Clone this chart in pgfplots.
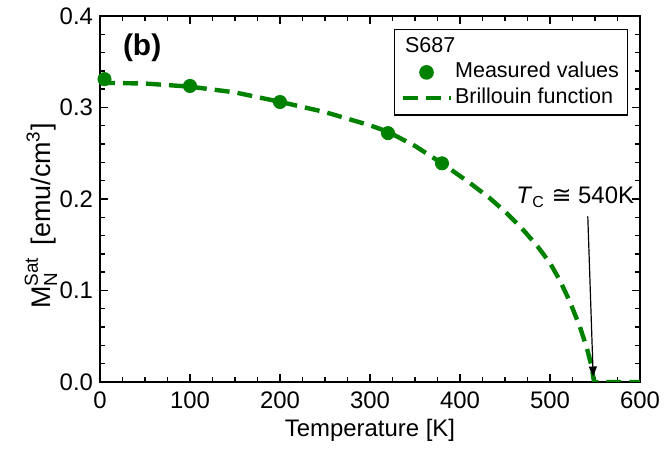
\documentclass[border=0pt]{standalone}
\usepackage{pgfplots}
\pgfplotsset{compat=1.18}
\usepackage{amsmath}
\usepackage{fontspec}
\setmainfont{Liberation Sans}
\newfontfamily\symfont{DejaVu Sans}
\usetikzlibrary{arrows.meta}
\definecolor{fitgreen}{RGB}{0,130,0}

% Legend symbols
\pgfplotsset{
  dotimg/.style={legend image code/.code={\draw[##1] plot coordinates {(12bp,0bp)};}},
  dashimg/.style={legend image code/.code={\draw[##1] (0bp,0bp) -- (24bp,0bp);}},
}

% Brillouin fit to the saturation magnetisation (read-off curve)
\pgfplotstableread{
T     M
0     0.3270
50    0.3262
100   0.3228
150   0.3165
200   0.3062
250   0.2950
300   0.2805
320   0.2735
350   0.2580
380   0.2390
411   0.2175
433   0.2010
452   0.1845
470   0.1665
486   0.1485
500   0.1300
511   0.1110
522   0.0880
533   0.0610
541   0.0370
546   0.0180
549   0.0000
600   0.0000
}\fitdata

% Measured values
\pgfplotstableread{
T     M
5     0.331
100   0.3235
200   0.306
320   0.272
380   0.239
}\measdata

\begin{document}
\begin{tikzpicture}
\begin{axis}[
  scale only axis,
  width=270bp, height=183bp,
  xmin=0, xmax=600, ymin=0, ymax=0.4,
  xtick={0,100,...,600},
  ytick={0,0.1,...,0.4},
  minor x tick num=3,
  minor y tick num=4,
  tick align=inside,
  xtick pos=both, ytick pos=both,
  major tick length=4bp, minor tick length=2.5bp,
  axis line style={line width=0.8bp},
  every tick/.style={black, line width=0.7bp},
  /pgf/number format/assume math mode=true,
  yticklabel style={/pgf/number format/fixed, /pgf/number format/fixed zerofill, /pgf/number format/precision=1, font=\fontsize{12}{14}\selectfont},
  xticklabel style={font=\fontsize{12}{14}\selectfont, yshift=-1.5bp},
  xlabel={Temperature [K]},
  xlabel style={font=\fontsize{12}{14}\selectfont, at={(axis description cs:0.5,-0.131)}, anchor=center},
  legend cell align=left,
  legend style={at={(axis description cs:0.978,0.9645)}, anchor=north east,
    draw=black, line width=0.7bp, font=\fontsize{10.8}{12}\selectfont,
    inner xsep=3bp, inner ysep=2bp, row sep=0pt,
    nodes={inner sep=1.2bp, text height=8bp, text depth=2.5bp}},
]
\addlegendimage{empty legend}
\addlegendentry{\makebox[0pt][l]{\hspace{-25bp}S687}}

\addplot[only marks, mark=*, mark size=3.3bp, fitgreen, dotimg]
  table[x=T, y=M] {\measdata};
\addlegendentry{Measured values}

\addplot[fitgreen, line width=2.2bp, dash pattern=on 7.5bp off 4bp, no marks, dashimg]
  table[x=T, y=M] {\fitdata};
\addlegendentry{Brillouin function}

\node[font=\fontsize{15}{17}\selectfont\bfseries] at (axis description cs:0.078,0.913) {(b)};
\node[font=\fontsize{12}{14}\selectfont] at (axis cs:528,0.202) {\textit{T}\textsubscript{C} {\symfont ≅} 540K};
\draw[line width=0.6bp, -{Triangle[length=5bp,width=4bp]}] (axis cs:542,0.181) -- (axis cs:548,0.006);
\end{axis}
% y-axis label, baseline placed just left of the tick labels
\node[rotate=90, font=\fontsize{13.5}{15}\selectfont, anchor=base] at (-25bp,83bp)
  {$\text{M}^{\text{Sat}}_{\text{N}}$\, [emu/cm\textsuperscript{3}]};
\pgfresetboundingbox
\path[use as bounding box] (-50bp,-36bp) rectangle (283bp,191bp);
\end{tikzpicture}
\end{document}
